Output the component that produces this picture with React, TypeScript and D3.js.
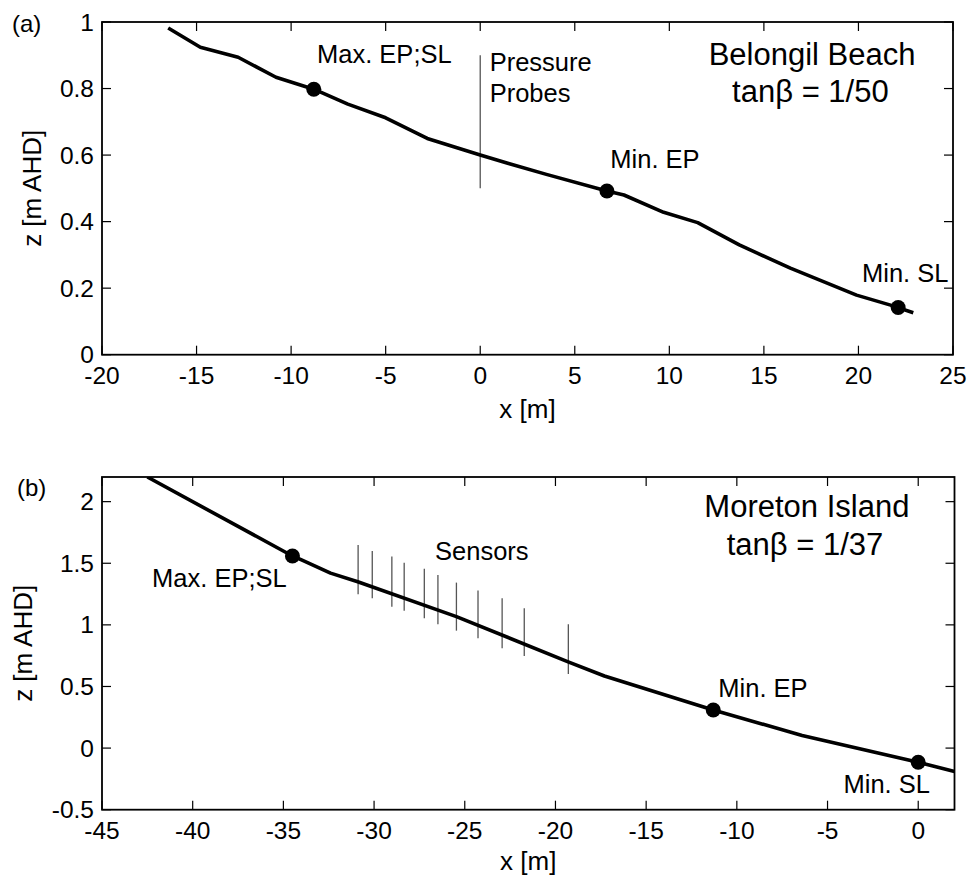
import { useEffect, useRef } from 'react';
import * as d3 from 'd3';

// ---- panel (a): Belongil Beach ----
const belongilX = [-16.5, -14.8, -12.8, -10.8, -8.8, -7.0, -5.0, -2.8, 0, 1.5, 3.5, 6.7, 7.6, 9.7, 11.5, 13.7, 16.4, 19.9, 21.7, 22.9];
const belongilZ = [0.982, 0.924, 0.894, 0.834, 0.798, 0.753, 0.712, 0.65, 0.60, 0.575, 0.542, 0.492, 0.48, 0.428, 0.397, 0.33, 0.26, 0.179, 0.149, 0.126];
const belongilMarkX = [-8.8, 6.7, 22.1];
const belongilMarkZ = [0.798, 0.492, 0.142];
const probeX = [0];
const probeTop = [0.9];
const probeBottom = [0.5];
const aXTicks = [-20, -15, -10, -5, 0, 5, 10, 15, 20, 25];
const aYTicks = [0, 0.2, 0.4, 0.6, 0.8, 1];

// ---- panel (b): Moreton Island ----
const moretonX = [-42.5, -34.5, -34.0, -32.4, -30.9, -25.46, -19.3, -17.3, -11.3, -6.4, 0, 2];
const moretonZ = [2.2, 1.559, 1.527, 1.42, 1.35, 1.067, 0.70, 0.585, 0.309, 0.103, -0.115, -0.19];
const moretonMarkX = [-34.5, -11.3, 0];
const moretonMarkZ = [1.559, 0.309, -0.115];
const sensorX = [-30.88, -30.1, -29.02, -28.34, -27.23, -26.48, -25.46, -24.27, -22.94, -21.72, -19.29];
const sensorTop = [1.649, 1.6, 1.554, 1.505, 1.456, 1.405, 1.343, 1.278, 1.216, 1.135, 1.005];
const sensorBottom = [1.248, 1.216, 1.148, 1.115, 1.054, 1.005, 0.953, 0.891, 0.81, 0.748, 0.601];
const bXTicks = [-45, -40, -35, -30, -25, -20, -15, -10, -5, 0];
const bYTicks = [-0.5, 0, 0.5, 1, 1.5, 2];

const FONT = '"Liberation Sans", Arial, Helvetica, sans-serif';

const panels = [
  {
    id: 'a', tag: '(a)',
    xDomain: [-20, 25], yDomain: [0, 1],
    box: { left: 102, right: 953, top: 22, bottom: 354.7 },
    xTicks: aXTicks, yTicks: aYTicks,
    lineX: belongilX, lineZ: belongilZ,
    markX: belongilMarkX, markZ: belongilMarkZ,
    vx: probeX, vTop: probeTop, vBottom: probeBottom,
    yLabelX: 41, xLabelOff: 63,
    notes: [
      { t: 'Max. EP;SL', x: -8.63, z: 0.876 },
      { t: 'Pressure', x: 0.5, z: 0.853 },
      { t: 'Probes', x: 0.5, z: 0.760 },
      { t: 'Min. EP', x: 6.88, z: 0.56 },
      { t: 'Min. SL', x: 20.19, z: 0.218 },
    ],
    title: [
      { t: 'Belongil Beach', x: 17.55, z: 0.871 },
      { t: 'tanβ = 1/50', x: 17.46, z: 0.760 },
    ],
  },
  {
    id: 'b', tag: '(b)',
    xDomain: [-45, 2], yDomain: [-0.5, 2.2],
    box: { left: 102, right: 954.5, top: 477, bottom: 809.7 },
    xTicks: bXTicks, yTicks: bYTicks,
    lineX: moretonX, lineZ: moretonZ,
    markX: moretonMarkX, markZ: moretonMarkZ,
    vx: sensorX, vTop: sensorTop, vBottom: sensorBottom,
    yLabelX: 31.5, xLabelOff: 60,
    notes: [
      { t: 'Max. EP;SL', x: -42.24, z: 1.31 },
      { t: 'Sensors', x: -26.64, z: 1.527 },
      { t: 'Min. EP', x: -11.02, z: 0.417 },
      { t: 'Min. SL', x: -4.12, z: -0.362 },
    ],
    title: [
      { t: 'Moreton Island', x: -6.14, z: 1.878 },
      { t: 'tanβ = 1/37', x: -6.24, z: 1.567 },
    ],
  },
];

const App = () => {
  const svgRef = useRef<SVGSVGElement>(null);

  useEffect(() => {
    const svg = d3.select(svgRef.current);
    svg.selectAll('*').remove();
    svg.attr('width', 970).attr('height', 877);

    svg.append('rect').attr('width', 970).attr('height', 877).attr('fill', 'white');

    panels.forEach(p => {
      const { left, right, top, bottom } = p.box;
      const x = d3.scaleLinear().domain(p.xDomain).range([left, right]);
      const y = d3.scaleLinear().domain(p.yDomain).range([bottom, top]);
      const g = svg.append('g').attr('font-family', FONT).attr('fill', 'black');

      // clip for data marks
      svg.append('clipPath').attr('id', `clip-${p.id}`)
        .append('rect')
        .attr('x', left).attr('y', top)
        .attr('width', right - left).attr('height', bottom - top);
      const plot = g.append('g').attr('clip-path', `url(#clip-${p.id})`);

      // vertical instrument lines (probes / sensors)
      plot.selectAll('line.inst')
        .data(p.vx)
        .join('line')
        .attr('class', 'inst')
        .attr('x1', d => x(d)).attr('x2', d => x(d))
        .attr('y1', (d, i) => y(p.vTop[i]))
        .attr('y2', (d, i) => y(p.vBottom[i]))
        .attr('stroke', '#555')
        .attr('stroke-width', 1.3);

      // beach profile
      const pts = p.lineX.map((v, i) => [v, p.lineZ[i]] as [number, number]);
      const line = d3.line<[number, number]>().x(d => x(d[0])).y(d => y(d[1]));
      plot.append('path')
        .datum(pts)
        .attr('fill', 'none')
        .attr('stroke', 'black')
        .attr('stroke-width', 3.6)
        .attr('stroke-linejoin', 'round')
        .attr('d', line);

      // markers
      plot.selectAll('circle')
        .data(p.markX)
        .join('circle')
        .attr('cx', d => x(d))
        .attr('cy', (d, i) => y(p.markZ[i]))
        .attr('r', 7.5)
        .attr('fill', 'black');

      // axes box
      g.append('rect')
        .attr('x', left).attr('y', top)
        .attr('width', right - left).attr('height', bottom - top)
        .attr('fill', 'none')
        .attr('stroke', 'black')
        .attr('stroke-width', 1.8);

      // inward ticks on all four sides
      const tl = 9;
      p.xTicks.forEach(t => {
        g.append('line').attr('x1', x(t)).attr('x2', x(t)).attr('y1', bottom).attr('y2', bottom - tl)
          .attr('stroke', 'black').attr('stroke-width', 1.2);
        g.append('line').attr('x1', x(t)).attr('x2', x(t)).attr('y1', top).attr('y2', top + tl)
          .attr('stroke', 'black').attr('stroke-width', 1.2);
        g.append('text')
          .attr('x', x(t)).attr('y', bottom + 29)
          .attr('text-anchor', 'middle')
          .attr('font-size', 24.5)
          .text(String(t));
      });
      p.yTicks.forEach(t => {
        g.append('line').attr('x1', left).attr('x2', left + tl).attr('y1', y(t)).attr('y2', y(t))
          .attr('stroke', 'black').attr('stroke-width', 1.2);
        g.append('line').attr('x1', right).attr('x2', right - tl).attr('y1', y(t)).attr('y2', y(t))
          .attr('stroke', 'black').attr('stroke-width', 1.2);
        g.append('text')
          .attr('x', left - 8).attr('y', y(t) + 8.5)
          .attr('text-anchor', 'end')
          .attr('font-size', 24.5)
          .text(String(t));
      });

      // axis labels
      g.append('text')
        .attr('x', (left + right) / 2).attr('y', bottom + p.xLabelOff)
        .attr('text-anchor', 'middle')
        .attr('font-size', 26)
        .text('x [m]');
      g.append('text')
        .attr('transform', `translate(${p.yLabelX}, ${(top + bottom) / 2}) rotate(-90)`)
        .attr('text-anchor', 'middle')
        .attr('font-size', 26)
        .text('z [m AHD]');

      // panel tag
      g.append('text')
        .attr('x', p.id === 'a' ? 12 : 17).attr('y', top + (p.id === 'a' ? 10 : 19))
        .attr('font-size', 24)
        .text(p.tag);

      // annotations
      p.notes.forEach(n => {
        g.append('text')
          .attr('x', x(n.x)).attr('y', y(n.z))
          .attr('font-size', 25.5)
          .text(n.t);
      });
      p.title.forEach(n => {
        g.append('text')
          .attr('x', x(n.x)).attr('y', y(n.z))
          .attr('text-anchor', 'middle')
          .attr('font-size', 31)
          .text(n.t);
      });
    });
  }, []);

  return (
    <svg ref={svgRef} style={{ position: 'absolute', left: 0, top: 0, display: 'block' }}></svg>
  );
};

export default App;
